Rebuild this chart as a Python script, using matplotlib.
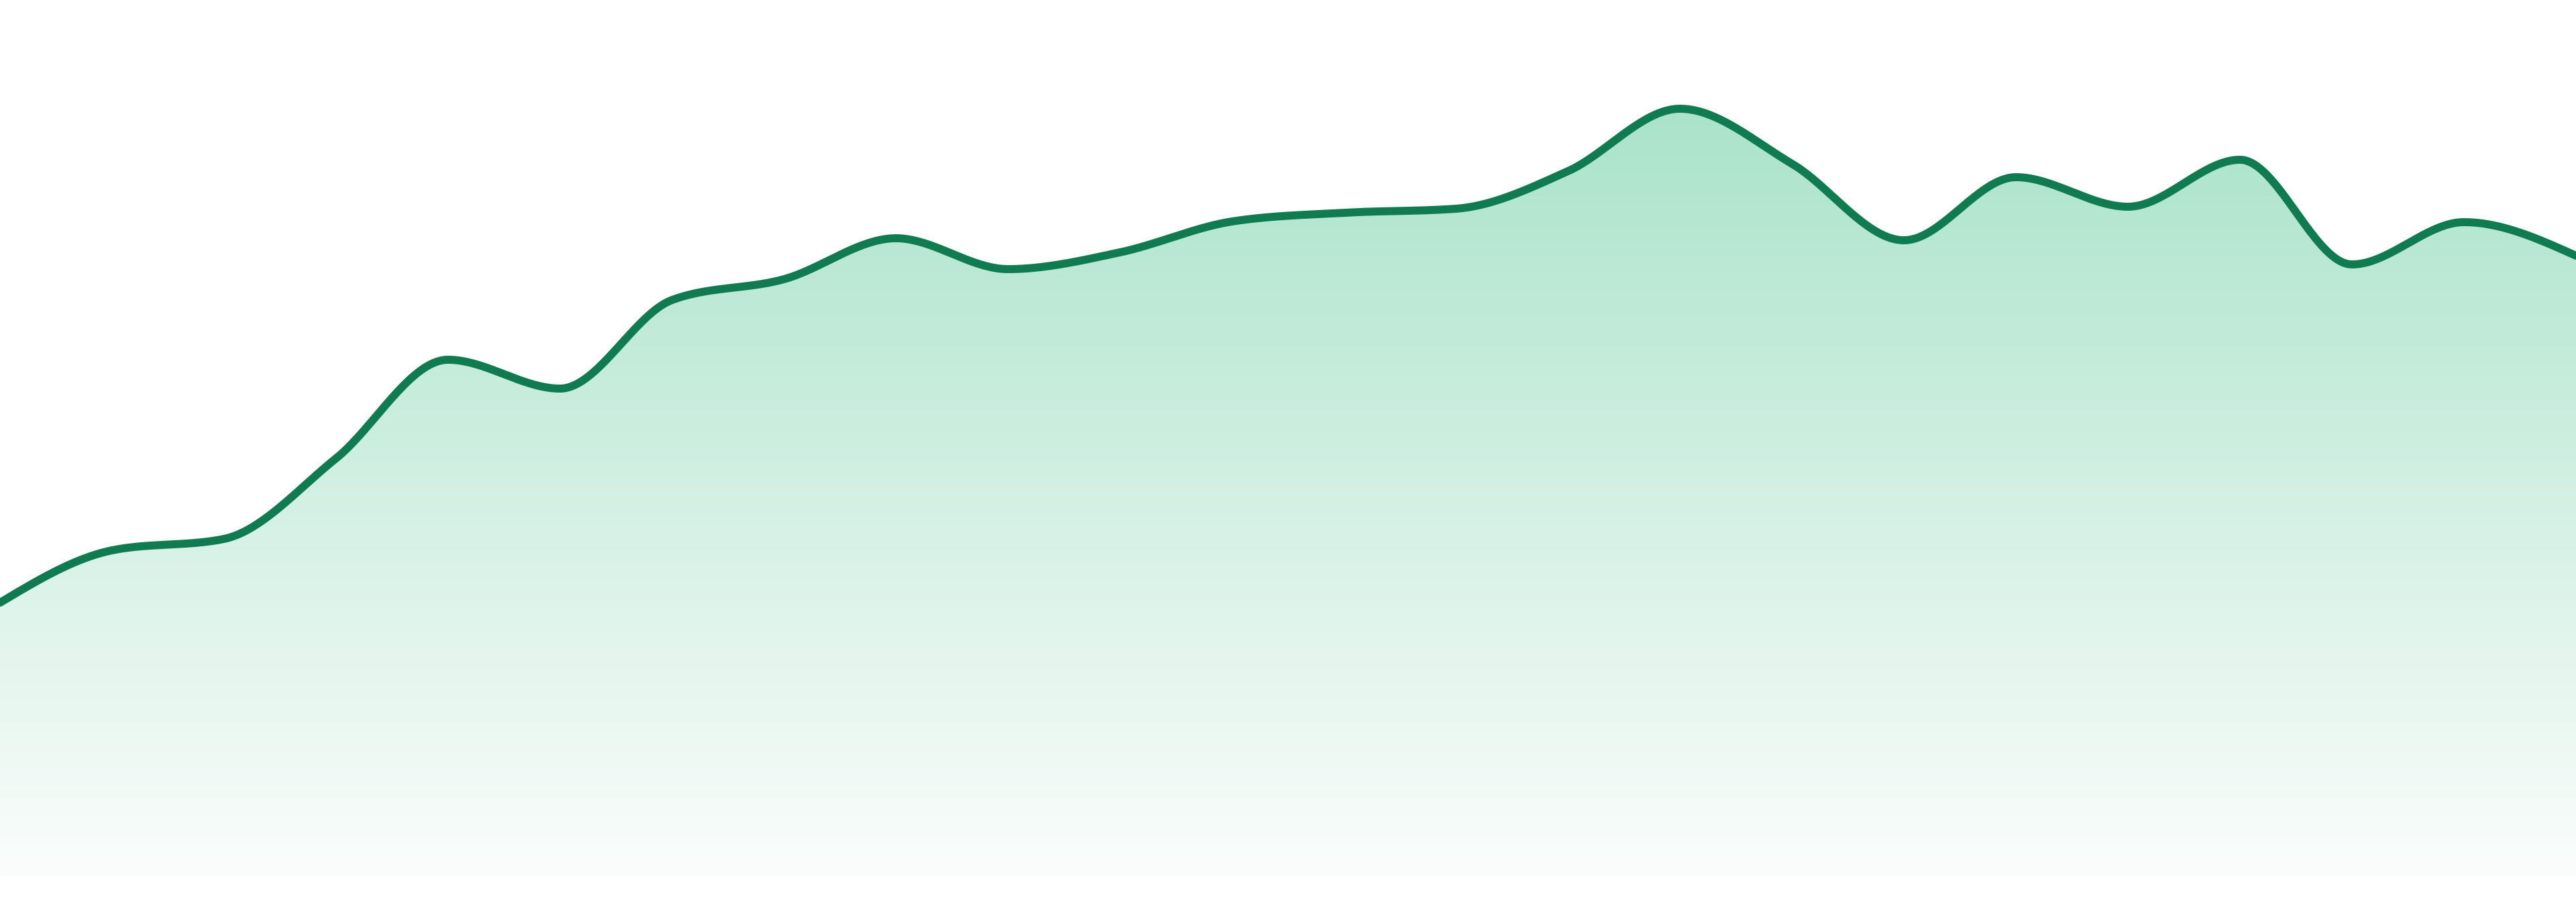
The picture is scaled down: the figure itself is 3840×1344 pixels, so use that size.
import numpy as np
import matplotlib
matplotlib.use("Agg")
import matplotlib.pyplot as plt
from matplotlib.patches import Polygon
from matplotlib.colors import LinearSegmentedColormap

# Data (24 evenly spaced samples)
x_index = list(range(24))
values = [40.7, 48.5, 50.2, 62.2, 76.9, 72.6, 85.8, 88.9, 95.0, 90.4,
          92.9, 97.5, 98.8, 99.4, 105.0, 114.3, 106.1, 94.7, 104.1, 99.7,
          106.7, 91.1, 97.4, 92.4]

line_color = "#107b50"
fill_top = "#aae3ca"
fill_bottom = "#fbfdfc"


def monotone_x(xs, ys, n=40):
    xs = np.asarray(xs, float)
    ys = np.asarray(ys, float)
    m = len(xs)
    h = np.diff(xs)
    s = np.diff(ys) / h
    t = np.zeros(m)
    for i in range(1, m - 1):
        s0, s1 = s[i - 1], s[i]
        h0, h1 = h[i - 1], h[i]
        p = (s0 * h1 + s1 * h0) / (h0 + h1)
        t[i] = (np.sign(s0) + np.sign(s1)) * min(abs(s0), abs(s1), 0.5 * abs(p))
    t[0] = (3 * s[0] - t[1]) / 2
    t[-1] = (3 * s[-1] - t[-2]) / 2
    px, py = [], []
    for i in range(m - 1):
        x0, x1 = xs[i], xs[i + 1]
        y0, y1 = ys[i], ys[i + 1]
        dx = (x1 - x0) / 3
        c = np.linspace(0, 1, n, endpoint=(i == m - 2))
        b0 = (1 - c) ** 3
        b1 = 3 * (1 - c) ** 2 * c
        b2 = 3 * (1 - c) * c ** 2
        b3 = c ** 3
        P = [(x0, y0), (x0 + dx, y0 + dx * t[i]), (x1 - dx, y1 - dx * t[i + 1]), (x1, y1)]
        px.extend(b0 * P[0][0] + b1 * P[1][0] + b2 * P[2][0] + b3 * P[3][0])
        py.extend(b0 * P[0][1] + b1 * P[1][1] + b2 * P[2][1] + b3 * P[3][1])
    return np.array(px), np.array(py)


fig = plt.figure(figsize=(38.4, 13.44), dpi=100)
fig.patch.set_facecolor("white")
ax = fig.add_axes([0, 0, 1, 1])
ax.set_axis_off()
ax.set_xlim(0, 23)
ax.set_ylim(-3.9, 130.5)

cx, cy = monotone_x(x_index, values)

# gradient fill clipped to the area under the curve
verts = np.column_stack([np.r_[cx, cx[-1], cx[0]], np.r_[cy, 0, 0]])
poly = Polygon(verts, closed=True, facecolor="none", edgecolor="none")
ax.add_patch(poly)
cmap = LinearSegmentedColormap.from_list("g", [fill_bottom, fill_top])
grad = np.linspace(0, 1, 512).reshape(-1, 1)
top = max(values)
im = ax.imshow(grad, cmap=cmap, aspect="auto", origin="lower",
               extent=[0, 23, 0, top], interpolation="bicubic", zorder=1)
im.set_clip_path(poly)

ax.plot(cx, cy, color=line_color, linewidth=8.6, solid_capstyle="round",
        solid_joinstyle="round", zorder=3)

fig.savefig("out.png", dpi=100, facecolor="white")
